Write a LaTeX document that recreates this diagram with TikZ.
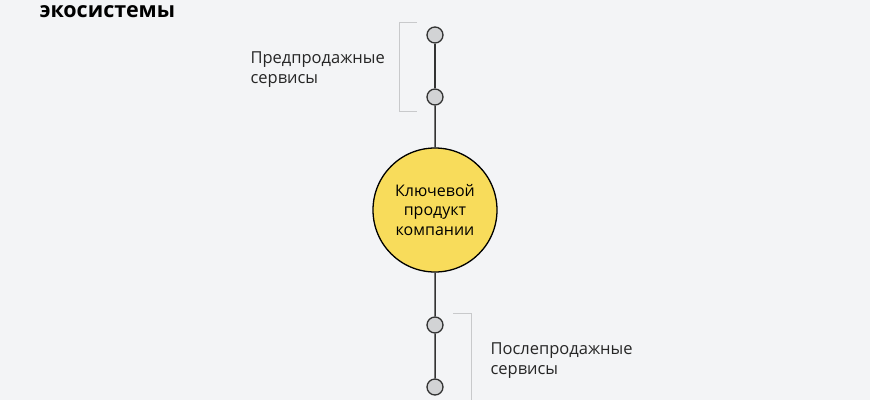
\documentclass[tikz,border=0pt]{standalone}
\usepackage{fontspec}
\setmainfont{Open Sans}
\definecolor{bgcol}{HTML}{F3F4F6}
\definecolor{dotcol}{HTML}{D2D3D5}
\definecolor{corecol}{HTML}{F8DC5B}
\definecolor{linecol}{HTML}{333333}
\definecolor{bracketcol}{HTML}{C8C9CB}
\tikzset{
	dot/.style={circle,draw=linecol,fill=dotcol,line width=1.3pt,minimum size=16pt,inner sep=0pt},
	core/.style={circle,draw=black,fill=corecol,line width=1.3pt,minimum size=124pt,inner sep=0pt,align=center,font=\fontsize{16}{19.5}\selectfont},
	label/.style={anchor=north west,align=left,font=\fontsize{16.5}{20}\selectfont,text=black!85},
	bracket/.style={draw=bracketcol,line width=0.8pt}
}
\begin{document}
\begin{tikzpicture}[x=1pt,y=-1pt,
		edge from parent/.style={draw=linecol,line width=1.5pt},
		grow=down]
	\fill[bgcol] (0,0) rectangle (870,400);
	\useasboundingbox (0,0) rectangle (870,400);
	\node[anchor=base west,font=\fontsize{21.5}{21.5}\bfseries] (title) at (36,17) {экосистемы};
	\node[dot] (pre1) at (435,35) {}
	child[level distance=62pt]{
		node[dot] (pre2) {}
		child[level distance=113pt]{
			node[core] (core) {Ключевой\\продукт\\компании}
			child[level distance=115pt]{
				node[dot] (post1) {}
				child[level distance=62pt]{
					node[dot] (post2) {}
				}
			}
		}
	};
	\draw[bracket] (417,22) -- (399,22) -- (399,111) -- (417,111);
	\draw[bracket] (453,313) -- (471,313) -- (471,400);
	\node[label] (prelabel) at (247,48) {Предпродажные\\сервисы};
	\node[label] (postlabel) at (487,339) {Послепродажные\\сервисы};
\end{tikzpicture}
\end{document}
